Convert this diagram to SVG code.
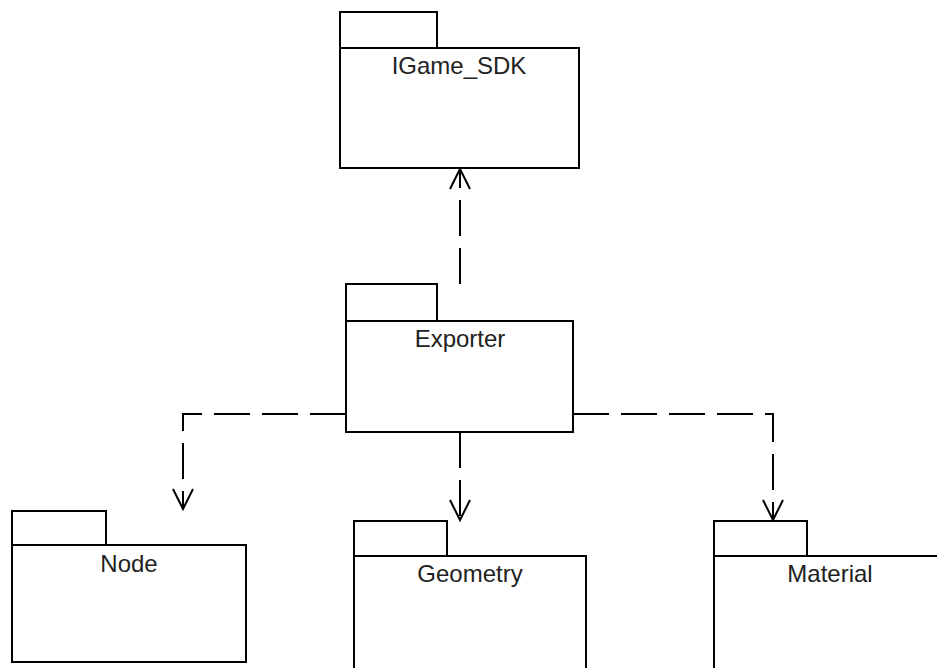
<svg xmlns="http://www.w3.org/2000/svg" width="937" height="668" viewBox="0 0 937 668">
<style>
.pk{fill:#fff;stroke:#000;stroke-width:2}
.lb{font-family:"Liberation Sans",Arial,sans-serif;font-size:24px;fill:#222;text-anchor:middle}
.dep{fill:none;stroke:#000;stroke-width:2;stroke-dasharray:36 12}
</style>
<defs>
<marker id="open" markerUnits="userSpaceOnUse" markerWidth="30" markerHeight="30" refX="22" refY="12" orient="auto" viewBox="0 0 30 24">
<path d="M2,2 L22,12 L2,22" fill="none" stroke="#000" stroke-width="2" stroke-dasharray="none"/>
</marker>
</defs>
<rect width="937" height="668" fill="#fff"/>
<g id="connectors">
<path class="dep" d="M460,284 L460,169" marker-end="url(#open)"/>
<path class="dep" d="M346,414 L183,414 L183,509" marker-end="url(#open)"/>
<path class="dep" d="M460,432 L460,520" marker-end="url(#open)"/>
<path class="dep" d="M573,414 L773,414 L773,520" marker-end="url(#open)"/>
</g>
<g id="igame_sdk">
<rect class="pk" x="340" y="12" width="97" height="36"/>
<rect class="pk" x="340" y="48" width="239" height="120"/>
<text class="lb" x="459" y="74">IGame_SDK</text>
</g>
<g id="exporter">
<rect class="pk" x="346" y="284" width="91" height="37"/>
<rect class="pk" x="346" y="321" width="227" height="111"/>
<text class="lb" x="460" y="347">Exporter</text>
</g>
<g id="node">
<rect class="pk" x="12" y="511" width="94" height="34"/>
<rect class="pk" x="12" y="545" width="234" height="117"/>
<text class="lb" x="129" y="572">Node</text>
</g>
<g id="geometry">
<rect class="pk" x="354" y="521" width="93" height="35"/>
<rect class="pk" x="354" y="556" width="232" height="130"/>
<text class="lb" x="470" y="582">Geometry</text>
</g>
<g id="material">
<rect class="pk" x="714" y="521" width="93" height="35"/>
<rect class="pk" x="714" y="556" width="232" height="130"/>
<text class="lb" x="830" y="582">Material</text>
</g>
</svg>
